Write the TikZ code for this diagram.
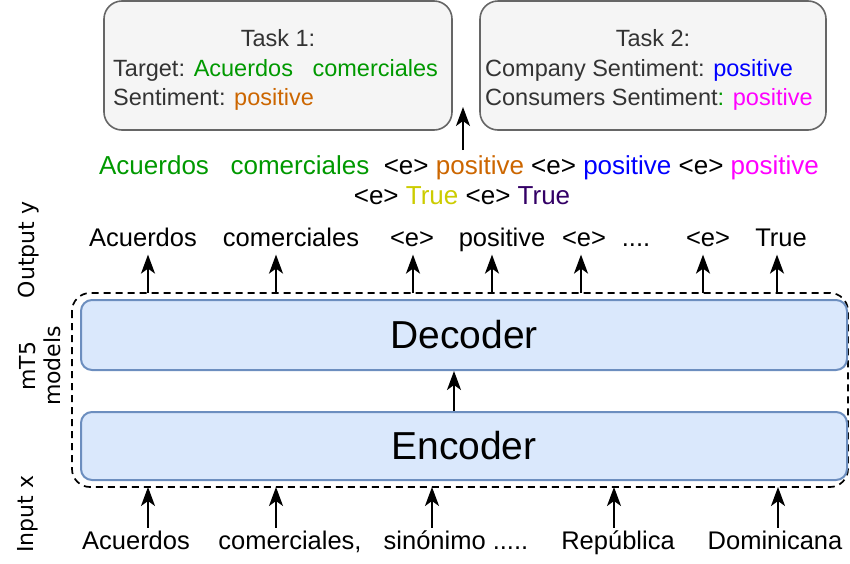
\documentclass[tikz,border=0pt]{standalone}
\usepackage{fontspec}
\setmainfont{Liberation Sans}
\newfontfamily\dvs{DejaVu Sans}
\usetikzlibrary{arrows.meta,calc}
\definecolor{tgray}{HTML}{333333}
\definecolor{boxfill}{HTML}{F5F5F5}
\definecolor{boxdraw}{HTML}{666666}
\definecolor{bluefill}{HTML}{DAE8FC}
\definecolor{bluedraw}{HTML}{6C8EBF}
\definecolor{cgreen}{HTML}{009900}
\definecolor{corange}{HTML}{CC6600}
\definecolor{cblue}{HTML}{0000FF}
\definecolor{cmag}{HTML}{FF00FF}
\definecolor{cyel}{HTML}{CCCC00}
\definecolor{cpurp}{HTML}{330066}
\tikzset{
  taskbox/.style={draw=boxdraw,fill=boxfill,line width=1.6pt,rounded corners=18pt},
  tasktxt/.style={inner sep=0pt,text=tgray,font=\fontsize{23.5}{28}\selectfont},
  modelbox/.style={draw=bluedraw,fill=bluefill,line width=2pt,rounded corners=11pt},
  modeltxt/.style={font=\fontsize{39}{44}\selectfont},
  lab/.style={inner sep=2pt,text height=19pt,text depth=6.4pt,font=\fontsize{25.5}{30}\selectfont},
  outline/.style={inner sep=0pt,font=\fontsize{26}{31}\selectfont},
  sidelab/.style={rotate=90,align=center,font=\dvs\fontsize{22}{25}\selectfont},
  arr/.style={line width=1.8pt,-{Stealth[length=19pt,width=14pt,inset=5pt]}},
  dashbox/.style={draw=black,line width=1.7pt,dash pattern=on 7pt off 5pt,rounded corners=18pt}
}
\begin{document}
\begin{tikzpicture}[x=1pt,y=-1pt]
\useasboundingbox (0,0) rectangle (850,563);
% task boxes
\draw[taskbox] (104,1) rectangle (452,130);
\node[tasktxt,anchor=base] (t1title) at (278,46) {Task 1:};
\node[tasktxt,anchor=base west] (t1l1) at (113,76) {Target: \textcolor{cgreen}{Acuerdos\ \ \ comerciales}};
\node[tasktxt,anchor=base west] (t1l2) at (113,105) {Sentiment: \textcolor{corange}{positive}};
\draw[taskbox] (480,1) rectangle (826,130);
\node[tasktxt,anchor=base] (t2title) at (653,46) {Task 2:};
\node[tasktxt,anchor=base west] (t2l1) at (485,76) {Company Sentiment: \textcolor{cblue}{positive}};
\node[tasktxt,anchor=base west] (t2l2) at (485,105) {Consumers Sentiment\textcolor{cgreen}{:} \textcolor{cmag}{positive}};
% output sequence
\node[outline,anchor=base] (seq1) at (459,174) {\textcolor{cgreen}{Acuerdos\ \ \ comerciales}\ \ {<}e{>} \textcolor{corange}{positive} {<}e{>} \textcolor{cblue}{positive} {<}e{>} \textcolor{cmag}{positive}};
\node[outline,anchor=base] (seq2) at (462,204) {{<}e{>} \textcolor{cyel}{True} {<}e{>} \textcolor{cpurp}{True}};
\coordinate (seqtop) at (463,150);
\coordinate (tasksgap) at (463,107);
\draw[arr] (seqtop) -- (tasksgap);
% output labels
\node[lab,anchor=base] (o1) at (143,246) {Acuerdos};
\node[lab,anchor=base] (o2) at (291,246) {comerciales};
\node[lab,anchor=base] (o3) at (412,246) {{<}e{>}};
\node[lab,anchor=base] (o4) at (502,246) {positive};
\node[lab,anchor=base] (o5) at (584,246) {{<}e{>}};
\node[lab,anchor=base] (o6) at (636,246) {....};
\node[lab,anchor=base] (o7) at (708,246) {{<}e{>}};
\node[lab,anchor=base] (o8) at (781,246) {True};
% model boxes
\draw[dashbox] (72,293) rectangle (848,487);
\node[modelbox,minimum width=766pt,minimum height=70pt,modeltxt] (dec) at (464,335) {Decoder};
\node[modelbox,minimum width=766pt,minimum height=68pt,modeltxt] (enc) at (464,446) {Encoder};
\draw[arr] ([xshift=-10pt]enc.north) -- ([xshift=-10pt]dec.south);
% output arrows
\foreach \x/\n in {148/o1,276/o2,413/o3,492/o4,581/o5,703/o7,777/o8}{
  \coordinate (s\n) at (\x,293);
  \draw[arr] (s\n) -- (s\n |- \n.south);
}
% input labels
\node[lab,anchor=base] (i1) at (136,549) {Acuerdos};
\node[lab,anchor=base] (i2) at (290,549) {comerciales,};
\node[lab,anchor=base] (i3) at (456,549) {sinónimo .....};
\node[lab,anchor=base] (i4) at (618,549) {República};
\node[lab,anchor=base] (i5) at (775,549) {Dominicana};
\foreach \x/\n in {148/i1,276/i2,432/i3,614/i4,778/i5}{
  \coordinate (e\n) at (\x,487);
  \draw[arr] (e\n |- \n.north) -- (e\n);
}
% side labels
\node[sidelab] (sy) at (29,250) {Output y};
\node[sidelab] (sm) at (40,366) {mT5\\models};
\node[sidelab] (sx) at (28,514) {Input x};
\end{tikzpicture}
\end{document}
